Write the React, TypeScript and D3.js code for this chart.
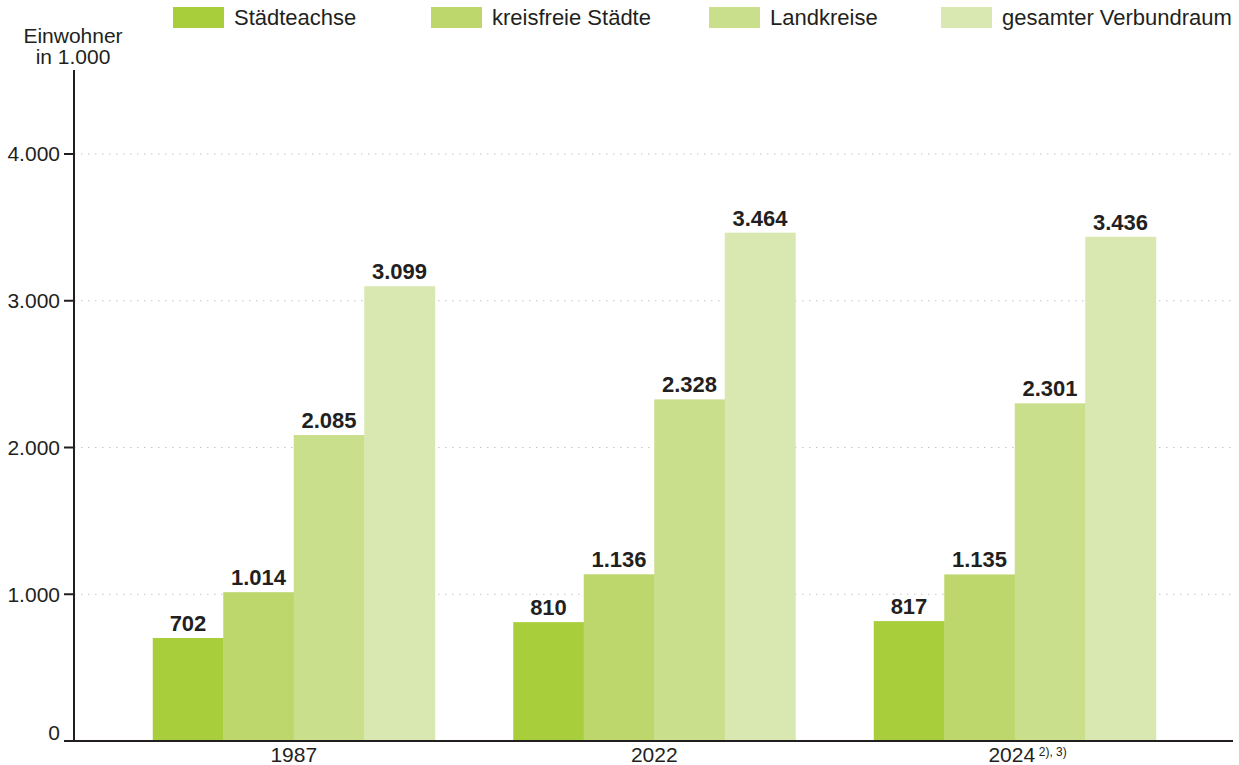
import React from "react";
import * as d3 from "d3";

const years = ["1987", "2022", "2024"];
const yearNotes = ["", "", "2), 3)"];
const seriesNames = ["Städteachse", "kreisfreie Städte", "Landkreise", "gesamter Verbundraum"];
const staedteachse = [702, 810, 817];
const kreisfreieStaedte = [1014, 1136, 1135];
const landkreise = [2085, 2328, 2301];
const gesamterVerbundraum = [3099, 3464, 3436];
const yTicks = [0, 1000, 2000, 3000, 4000];
const yTickLabels = ["0", "1.000", "2.000", "3.000", "4.000"];
const colors = ["#a8cf3b", "#bdd76d", "#c9df8b", "#d9e8b0"];
const legendX = [173, 431, 709, 941];

const W = 1239;
const H = 765;
const FONT = "'Liberation Sans', Arial, Helvetica, sans-serif";
const TEXT = "#231f20";

export default function App() {
  const series = [staedteachse, kreisfreieStaedte, landkreise, gesamterVerbundraum];
  const x0 = d3.scaleBand<string>().domain(years).range([113.5, 1195]).paddingInner(0.2178).paddingOuter(0.1089);
  const x1 = d3.scaleBand<number>().domain(d3.range(seriesNames.length)).range([0, x0.bandwidth()]);
  const y = d3.scaleLinear().domain([0, 4000]).range([741, 154]);
  const axisX = 74;
  const axisTop = 70;
  const axisRight = 1233;
  const fmt = (v: number) => d3.format(",")(v).replace(/,/g, ".");

  return (
    <svg width={W} height={H} style={{ position: "absolute", left: 0, top: 0, background: "#fff" }} fontFamily={FONT}>
      {yTicks.filter((t) => t > 0).map((t) => (
        <line key={"g" + t} x1={axisX} x2={axisRight} y1={y(t)} y2={y(t)} stroke="#c4c4c4" strokeWidth={1.2} strokeDasharray="1.5 5.5" />
      ))}
      {years.map((yr, gi) => (
        <g key={yr} transform={`translate(${x0(yr)},0)`}>
          {series.map((s, si) => (
            <rect key={si} x={x1(si)} y={y(s[gi])} width={x1.bandwidth() + 0.5} height={y(0) - y(s[gi])} fill={colors[si]} />
          ))}
          {series.map((s, si) => (
            <text key={"t" + si} x={(x1(si) as number) + x1.bandwidth() / 2} y={y(s[gi]) - 7} textAnchor="middle" fontSize={22} fontWeight="bold" fill={TEXT}>
              {fmt(s[gi])}
            </text>
          ))}
        </g>
      ))}
      <line x1={axisX} x2={axisX} y1={axisTop} y2={742} stroke="#231f20" strokeWidth={2} />
      {yTicks.map((t, i) => (
        <g key={"yt" + t}>
          <line x1={64} x2={axisX} y1={y(t)} y2={y(t)} stroke="#231f20" strokeWidth={2} />
          <text x={60} y={y(t)} dy={t === 0 ? "-0.05em" : "0.35em"} textAnchor="end" fontSize={21} fill={TEXT}>
            {yTickLabels[i]}
          </text>
        </g>
      ))}
      <line x1={64} x2={axisRight} y1={741} y2={741} stroke="#231f20" strokeWidth={2} />
      {years.map((yr, i) => {
        const cx = (x0(yr) as number) + x0.bandwidth() / 2 - (yearNotes[i] ? 3 : 0);
        return (
          <g key={"xl" + yr}>
            <text x={cx} y={762} textAnchor="middle" fontSize={21} fill={TEXT}>{yr}</text>
            {yearNotes[i] && (
              <text x={cx + 27} y={756} textAnchor="start" fontSize={12} fill={TEXT}>{yearNotes[i]}</text>
            )}
          </g>
        );
      })}
      <text x={73} y={43} textAnchor="middle" fontSize={21} fill={TEXT}>Einwohner</text>
      <text x={73} y={64} textAnchor="middle" fontSize={21} fill={TEXT}>in 1.000</text>
      {seriesNames.map((name, i) => (
        <g key={"lg" + i}>
          <rect x={legendX[i]} y={7} width={51} height={21} fill={colors[i]} />
          <text x={legendX[i] + 61} y={25} fontSize={22} fill={TEXT}>{name}</text>
        </g>
      ))}
    </svg>
  );
}
